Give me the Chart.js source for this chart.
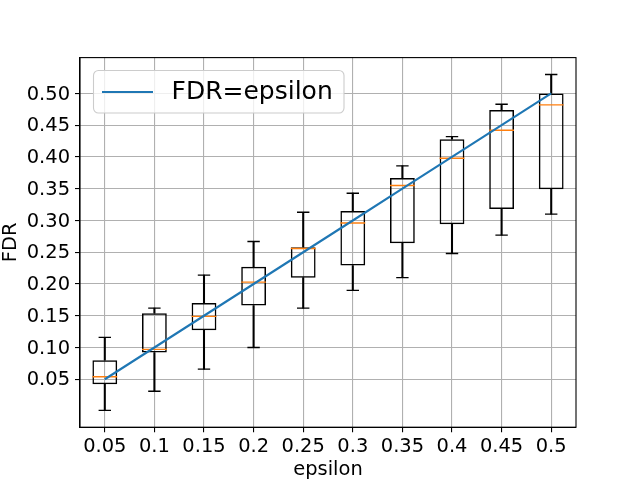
<!DOCTYPE html>
<html>
<head>
<meta charset="utf-8">
<script src="https://cdn.jsdelivr.net/npm/chart.js@4/dist/chart.umd.min.js"></script>
<style>
html,body{margin:0;padding:0;background:#fff;}
#wrap{width:640px;height:480px;position:relative;}
</style>
</head>
<body>
<div id="wrap"><canvas id="c" width="640" height="480"></canvas></div>
<script>
// ---- data ----
const categories = ['0.05','0.1','0.15','0.2','0.25','0.3','0.35','0.4','0.45','0.5'];
const whiskerLow = [0.001, 0.031, 0.066, 0.100, 0.162, 0.190, 0.210, 0.248, 0.277, 0.310];
const q1         = [0.042, 0.092, 0.127, 0.166, 0.210, 0.229, 0.264, 0.294, 0.318, 0.349];
const median     = [0.054, 0.097, 0.149, 0.203, 0.256, 0.296, 0.355, 0.398, 0.442, 0.482];
const q3         = [0.080, 0.154, 0.170, 0.227, 0.258, 0.315, 0.367, 0.428, 0.474, 0.500];
const whiskerHigh= [0.116, 0.162, 0.214, 0.267, 0.313, 0.343, 0.386, 0.432, 0.483, 0.530];
const fdrLine    = [0.05, 0.10, 0.15, 0.20, 0.25, 0.30, 0.35, 0.40, 0.45, 0.50];
const yTicks     = [0.05, 0.10, 0.15, 0.20, 0.25, 0.30, 0.35, 0.40, 0.45, 0.50];
const yMin = -0.0255, yMax = 0.5565;
const xTitle = 'epsilon', yTitle = 'FDR', legendLabel = 'FDR=epsilon';

const FONT = "'DejaVu Sans', sans-serif";
const FS = 19.44;
const BLUE = '#1f77b4', ORANGE = '#ff7f0e';

const boxes = categories.map((c,i)=>[q1[i], q3[i]]);
const lowW  = categories.map((c,i)=>[whiskerLow[i], q1[i]]);
const highW = categories.map((c,i)=>[q3[i], whiskerHigh[i]]);

const frame = {
  id:'frame',
  afterDatasetsDraw(chart){
    const {ctx, chartArea:a} = chart;
    ctx.save();
    ctx.strokeStyle='#000'; ctx.lineWidth=1.1;
    ctx.strokeRect(a.left, a.top, a.right-a.left, a.bottom-a.top);
    // legend
    const ds = chart.data.datasets[0];
    const x0=93.5, y0=70.5, w=250.5, h=42.5, r=5;
    ctx.beginPath();
    ctx.moveTo(x0+r,y0); ctx.lineTo(x0+w-r,y0); ctx.arcTo(x0+w,y0,x0+w,y0+r,r);
    ctx.lineTo(x0+w,y0+h-r); ctx.arcTo(x0+w,y0+h,x0+w-r,y0+h,r);
    ctx.lineTo(x0+r,y0+h); ctx.arcTo(x0,y0+h,x0,y0+h-r,r);
    ctx.lineTo(x0,y0+r); ctx.arcTo(x0,y0,x0+r,y0,r); ctx.closePath();
    ctx.fillStyle='rgba(255,255,255,0.8)'; ctx.fill();
    ctx.strokeStyle='#cccccc'; ctx.lineWidth=1.1; ctx.stroke();
    ctx.beginPath(); ctx.moveTo(102,92); ctx.lineTo(153,92);
    ctx.strokeStyle=ds.borderColor; ctx.lineWidth=2.1; ctx.stroke();
    ctx.fillStyle='#000'; ctx.font='25px '+FONT; ctx.textBaseline='middle';
    ctx.fillText(ds.label, 171.5, 92);
    ctx.restore();
  }
};

new Chart(document.getElementById('c'), {
  type:'bar',
  data:{
    labels: categories,
    datasets:[
      {type:'line', label:legendLabel, data:fdrLine, borderColor:BLUE, borderWidth:2.1,
       pointRadius:0, fill:false, order:0, tension:0},
      {type:'line', label:'median', data:median, showLine:false, pointStyle:'line',
       pointRadius:12.4, pointBorderWidth:1.4, borderColor:ORANGE, pointBorderColor:ORANGE, order:1},
      {type:'line', label:'capLow', data:whiskerLow, showLine:false, pointStyle:'line',
       pointRadius:6.2, pointBorderWidth:1.4, borderColor:'#000', pointBorderColor:'#000', order:2},
      {type:'line', label:'capHigh', data:whiskerHigh, showLine:false, pointStyle:'line',
       pointRadius:6.2, pointBorderWidth:1.4, borderColor:'#000', pointBorderColor:'#000', order:2},
      {label:'box', data:boxes, backgroundColor:'rgba(0,0,0,0)', borderColor:'#000', borderWidth:1.5,
       borderSkipped:false, grouped:false, barPercentage:0.5, categoryPercentage:1, order:3},
      {label:'wLow', data:lowW, backgroundColor:'#000', borderWidth:0, grouped:false,
       barThickness:1.4, order:4},
      {label:'wHigh', data:highW, backgroundColor:'#000', borderWidth:0, grouped:false,
       barThickness:1.4, order:4}
    ]
  },
  options:{
    responsive:false, animation:false, devicePixelRatio:1,
    layout:{padding:{left:0, right:64, top:57.6, bottom:0}},
    plugins:{legend:{display:false}, tooltip:{enabled:false}},
    scales:{
      x:{
        offset:true,
        grid:{offset:false, color:'#b0b0b0', lineWidth:1.1, tickColor:'#000', tickLength:5, drawTicks:true},
        border:{display:true, color:'#000', width:1.1},
        ticks:{color:'#000', font:{family:FONT, size:FS}, padding:3, maxRotation:0, autoSkip:false},
        title:{display:true, text:xTitle, color:'#000', font:{family:FONT, size:FS, lineHeight:1.05}, padding:{top:0,bottom:0}},
        afterFit(s){ s.height = 52.8; }
      },
      y:{
        min:yMin, max:yMax,
        afterBuildTicks(s){ s.ticks = yTicks.map(v=>({value:v})); },
        grid:{color:'#b0b0b0', lineWidth:1.1, tickColor:'#000', tickLength:5},
        border:{display:true, color:'#000', width:1.1},
        ticks:{color:'#000', font:{family:FONT, size:FS}, padding:5, labelOffset:1, callback:(v)=>Number(v).toFixed(2)},
        title:{display:true, text:yTitle, color:'#000', font:{family:FONT, size:FS, lineHeight:1.12}, padding:{top:0,bottom:0}},
        afterFit(s){ s.width = 80; }
      }
    }
  },
  plugins:[frame]
});
</script>
</body>
</html>
